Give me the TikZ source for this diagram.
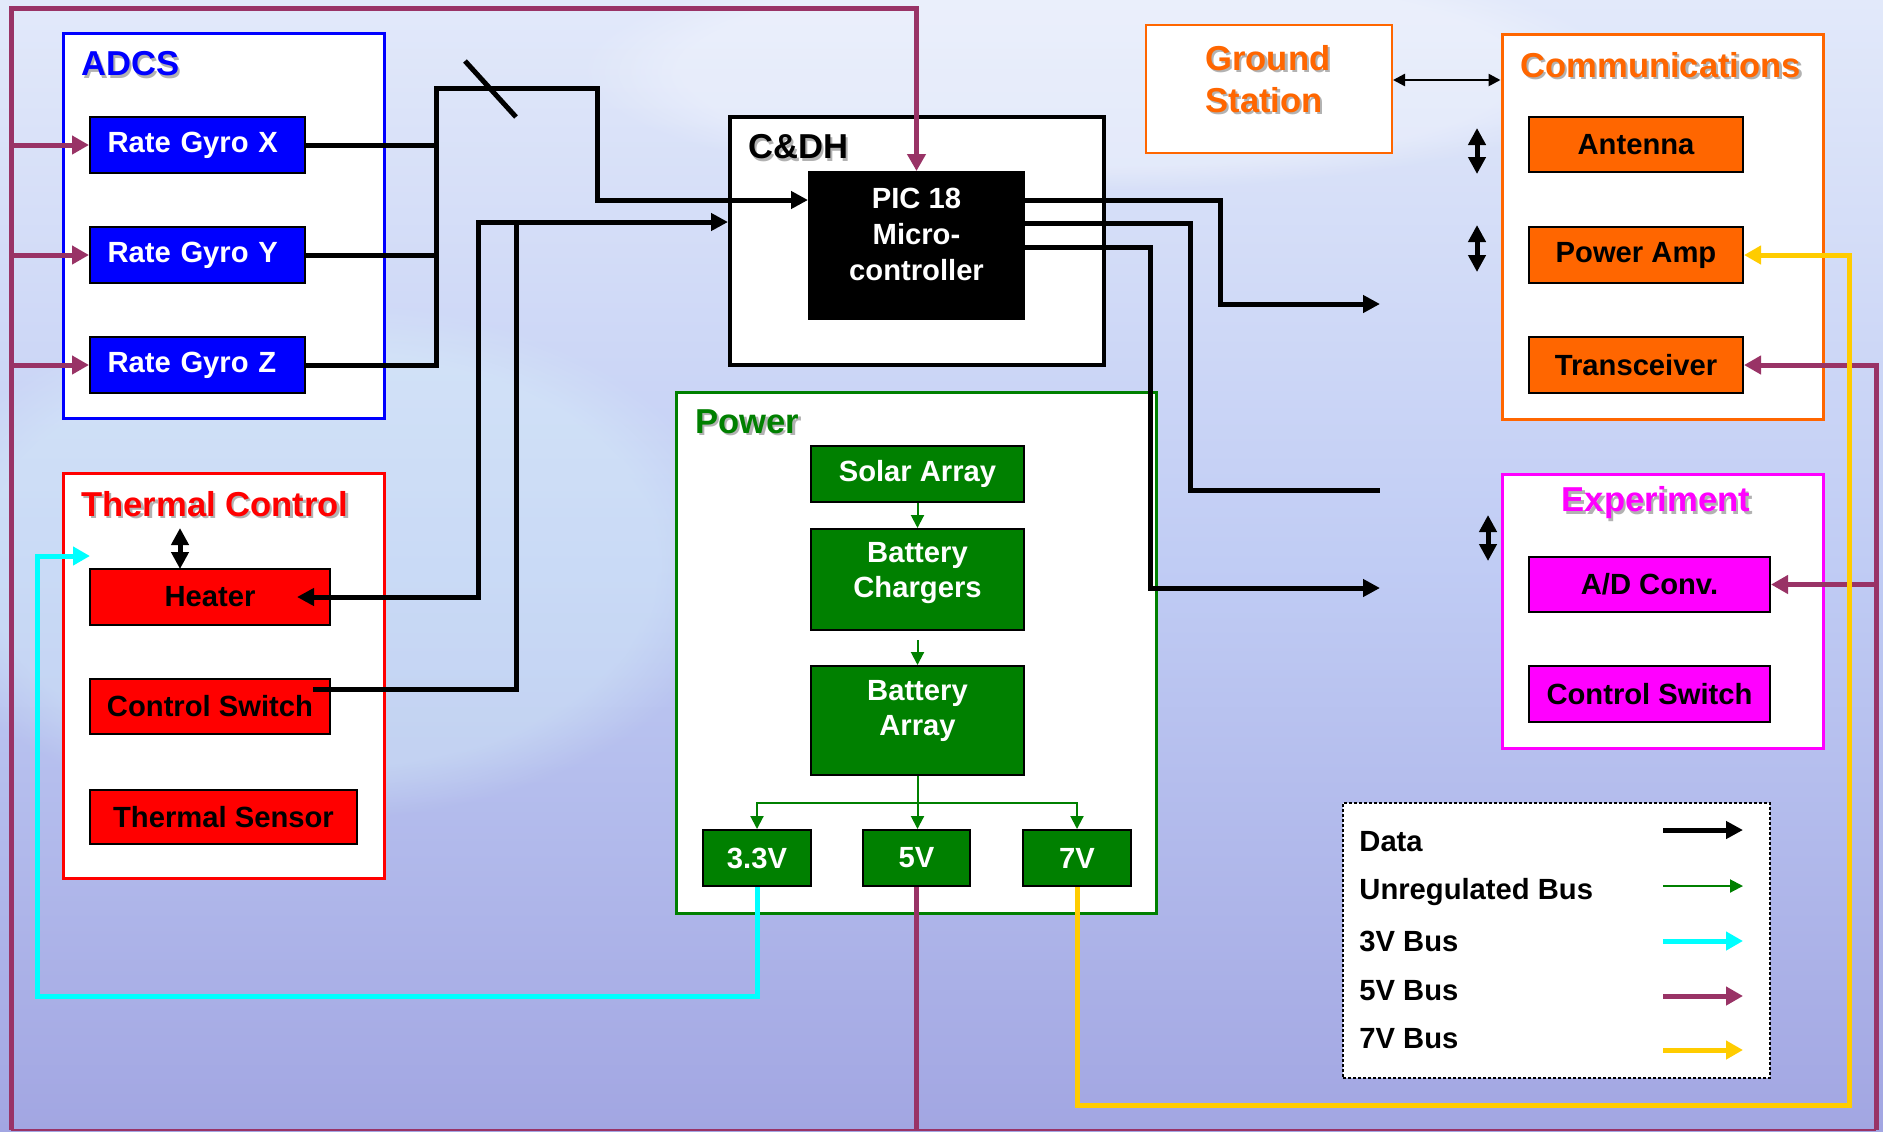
\documentclass[tikz,border=0pt]{standalone}
\usepackage{fontspec}
\setmainfont{Liberation Sans}
\usepackage{xcolor}
\usetikzlibrary{arrows.meta, positioning, calc, fadings}

\definecolor{adcsblue}{RGB}{0,0,255}
\definecolor{thermred}{RGB}{255,0,0}
\definecolor{commorange}{RGB}{255,102,0}
\definecolor{expmagenta}{RGB}{255,0,255}
\definecolor{powgreen}{RGB}{0,128,0}
\definecolor{fiveV}{RGB}{153,51,102}
\definecolor{sevenV}{RGB}{255,204,0}
\definecolor{threeV}{RGB}{0,255,255}
\definecolor{skytop}{RGB}{226,233,250}
\definecolor{skymid}{RGB}{192,204,244}
\definecolor{skybot}{RGB}{162,166,226}
\definecolor{skyhaze}{RGB}{220,246,250}

\newcommand{\unitfont}{\bfseries\fontsize{14.6}{17.5}\selectfont}
\newcommand{\ttlfont}{\bfseries\fontsize{17.3}{21}\selectfont}
\newcommand{\shtxt}[1]{\leavevmode\rlap{\kern1.2pt\raisebox{-1.2pt}{\textcolor{black!30}{#1}}}#1}

\begin{document}
\begin{tikzpicture}[
      x=0.5pt, y=-0.5pt,
      sysframe/.style={draw=#1, line width=1.5pt, fill=white, inner sep=0pt},
      subunit/.style={draw=black, line width=1pt, fill=#1, font=\unitfont, inner sep=0pt, align=center},
      gyro/.style={subunit=adcsblue, text=white, minimum width=107.5pt, minimum height=28pt, align=left, text width=90pt},
      ttl/.style={font=\ttlfont, text=#1, inner sep=0pt, anchor=west},
      lgtext/.style={font=\unitfont, inner sep=0pt, anchor=west},
      datalink/.style={line width=2.5pt, >={Triangle[length=8.5pt,width=8.5pt]}},
      gslink/.style={line width=1.25pt, >={Triangle[length=6pt,width=6pt]}},
      unreg/.style={powgreen, line width=1pt, >={Triangle[length=6.5pt,width=6.5pt]}},
      bus3/.style={threeV, line width=2.5pt, >={Triangle[length=8.5pt,width=9pt]}},
      bus5/.style={fiveV, line width=2.5pt, >={Triangle[length=8.5pt,width=9pt]}},
      bus7/.style={sevenV, line width=2.5pt, >={Triangle[length=8.5pt,width=9pt]}}
    ]
    \useasboundingbox (0,0) rectangle (1883,1131);

    % Sky background
    \fill[top color=skytop, bottom color=skybot, middle color=skymid] (0,0) rectangle (1883,1131);
    \fill[skyhaze, opacity=0.35, path fading=circle with fuzzy edge 20 percent] (320,560) ellipse (420 and 260);
    \fill[white, opacity=0.3, path fading=circle with fuzzy edge 20 percent] (1100,70) ellipse (520 and 120);

    % Subsystem frames
    \node[sysframe=adcsblue, minimum width=160.5pt, minimum height=192.5pt] (adcs) at (223.5,225.5) {};
    \node[sysframe=thermred, minimum width=160.5pt, minimum height=202.5pt] (thermal) at (223.5,675.5) {};
    \node[sysframe=black, line width=2pt, minimum width=187pt, minimum height=124pt] (cdh) at (917,241) {};
    \node[sysframe=powgreen, minimum width=240pt, minimum height=260.5pt] (power) at (916,652.5) {};
    \node[sysframe=commorange, line width=1pt, minimum width=123pt, minimum height=64pt] (ground) at (1269,89) {};
    \node[sysframe=commorange, minimum width=160.5pt, minimum height=192.5pt] (comm) at (1662.5,226.5) {};
    \node[sysframe=expmagenta, minimum width=160.5pt, minimum height=137pt] (exp) at (1662.5,611) {};
    \node[sysframe=black, densely dotted, line width=1pt, minimum width=213.5pt, minimum height=137.5pt] (legend) at (1556.5,940.5) {};

    % Titles
    \node[ttl=adcsblue] (adcsttl) at (81,65) {\shtxt{ADCS}};
    \node[ttl=thermred] (thermttl) at (81,505) {\shtxt{Thermal Control}};
    \node[ttl=black] (cdhttl) at (748,148) {\shtxt{C\&DH}};
    \node[ttl=powgreen] (powttl) at (695,423) {\shtxt{Power}};
    \node[ttl=commorange, align=left] (gsttl) at (1205,80) {\shtxt{Ground}\\\shtxt{Station}};
    \node[ttl=commorange] (commttl) at (1520,66) {\shtxt{Communications}};
    \node[ttl=expmagenta, anchor=center] (expttl) at (1656,504) {\shtxt{Experiment}};

    % ADCS units
    \node[gyro] (gx) at (197.5,145) {Rate Gyro X};
    \node[gyro] (gy) at (197.5,255) {Rate Gyro Y};
    \node[gyro] (gz) at (197.5,365) {Rate Gyro Z};

    % Thermal units
    \node[subunit=thermred, minimum width=120pt, minimum height=28pt] (heater) at (210,597) {Heater};
    \node[subunit=thermred, minimum width=120pt, minimum height=27.5pt] (tcsw) at (210,706.5) {Control Switch};
    \node[subunit=thermred, minimum width=133.5pt, minimum height=27pt] (tsens) at (223.5,817) {Thermal Sensor};

    % C&DH unit
    \node[subunit=black, text=white, minimum width=107.5pt, minimum height=73.5pt, text depth=11.5pt,
          font={\bfseries\fontsize{14.6}{18}\selectfont}] (pic) at (916.5,245.5) {PIC 18\\Micro-\\controller};

    % Power units
    \node[subunit=powgreen, text=white, minimum width=106.5pt, minimum height=28pt] (solar) at (917.5,474) {Solar Array};
    \node[subunit=powgreen, text=white, minimum width=106.5pt, minimum height=50.5pt, text depth=9.5pt] (charg) at (917.5,579.5) {Battery\\Chargers};
    \node[subunit=powgreen, text=white, minimum width=106.5pt, minimum height=54.5pt, text depth=13pt] (barr) at (917.5,720.5) {Battery\\Array};
    \node[subunit=powgreen, text=white, minimum width=54pt, minimum height=28pt] (v33) at (757,858) {3.3V};
    \node[subunit=powgreen, text=white, minimum width=53.5pt, minimum height=28pt] (v5) at (916.5,858) {5V};
    \node[subunit=powgreen, text=white, minimum width=54pt, minimum height=28pt] (v7) at (1077,858) {7V};

    % Communications units
    \node[subunit=commorange, minimum width=107pt, minimum height=27.5pt] (antenna) at (1636,144.5) {Antenna};
    \node[subunit=commorange, minimum width=107pt, minimum height=28pt] (pamp) at (1636,255) {Power Amp};
    \node[subunit=commorange, minimum width=107pt, minimum height=28pt] (xcvr) at (1636,365) {Transceiver};

    % Experiment units
    \node[subunit=expmagenta, minimum width=120.5pt, minimum height=27.5pt] (adc) at (1649.5,584.5) {A/D Conv.};
    \node[subunit=expmagenta, minimum width=120.5pt, minimum height=28pt] (ecsw) at (1649.5,694) {Control Switch};

    % Legend
    \node[lgtext] (lgdata) at (1359,842) {Data};
    \node[lgtext] (lgunreg) at (1359,892) {Unregulated Bus};
    \node[lgtext] (lgthree) at (1359,941) {3V Bus};
    \node[lgtext] (lgfive) at (1359,991) {5V Bus};
    \node[lgtext] (lgseven) at (1359,1039) {7V Bus};

    % Bend points and free ends
    \coordinate (t5l) at (11,8);
    \coordinate (b5l) at (11,1130);
    \coordinate (b5r) at (1876,1130);
    \coordinate (c3bl) at (37,996);
    \coordinate (c3tip) at (90,556);
    \coordinate (y7r) at (1849,1105);
    \coordinate (gsplit) at (917.5,803);
    \coordinate (dtop) at (436,88);
    \coordinate (dknee) at (597,200);
    \coordinate (hknee) at (478,222);
    \coordinate (sknee) at (516,222);
    \coordinate (k1) at (1220,304);
    \coordinate (k2) at (1190,490);
    \coordinate (k3) at (1150,588);
    \coordinate (o1) at (1380,304);
    \coordinate (o2) at (1380,490);
    \coordinate (o3) at (1380,588);

    % 5V bus
    \draw[bus5, line width=1pt] (b5l) -- (b5r);
    \draw[bus5] (v5.south) -- (v5.south |- b5l);
    \draw[bus5, ->] (b5l) -- (t5l) -| (pic.north);
    \draw[bus5, ->] (t5l |- gx.west) -- (gx.west);
    \draw[bus5, ->] (t5l |- gy.west) -- (gy.west);
    \draw[bus5, ->] (t5l |- gz.west) -- (gz.west);
    \draw[bus5, ->] (b5r) |- (xcvr.east);
    \draw[bus5, ->] (b5r |- adc.east) -- (adc.east);

    % 3V and 7V buses
    \draw[bus3, ->] (v33.south) |- (c3bl) |- (c3tip);
    \draw[bus7, ->] (v7.south) |- (y7r) |- (pamp.east);

    % Unregulated bus
    \draw[unreg, ->] (solar.south) -- (charg.north);
    \draw[unreg, ->] ([yshift=-4.5pt]charg.south) -- (barr.north);
    \draw[unreg, ->] (barr.south) -- (barr.south |- v5.north);
    \draw[unreg, ->] (gsplit) -| (v33.north);
    \draw[unreg, ->] (gsplit) -| (v7.north);

    % Data links
    \draw[datalink] (gx.east) -- (gx.east -| dtop);
    \draw[datalink] (gy.east) -- (gy.east -| dtop);
    \draw[datalink, ->] (gz.east) -| (dtop) -| (dknee) -- (dknee -| pic.west);
    \draw[datalink] (465,61) -- (516,117);
    \draw[datalink, <->] ([xshift=-17pt]heater.east) -| (hknee) -- (hknee -| cdh.west);
    \draw[datalink] ([xshift=-9pt, yshift=8.75pt]tcsw.east) -| (sknee);
    \draw[datalink, ->] ([yshift=22.75pt]pic.east) -| (k1) -- (o1);
    \draw[datalink] ([yshift=11.25pt]pic.east) -| (k2) -- (o2);
    \draw[datalink, ->] ([yshift=-0.75pt]pic.east) -| (k3) -- (o3);

    % Short two-way links
    \draw[gslink, <->] ([yshift=4.5pt]ground.east) -- ([yshift=4.5pt]ground.east -| comm.west);
    \draw[datalink, <->] (180,528) -- (180,569);
    \draw[datalink, <->] (1477,128) -- (1477,174);
    \draw[datalink, <->] (1477,225) -- (1477,272);
    \draw[datalink, <->] (1488,515) -- (1488,561);

    % Legend samples
    \draw[datalink, ->] (1663,830) -- (1743,830);
    \draw[unreg, ->] (1663,886) -- (1743,886);
    \draw[bus3, ->] (1663,941) -- (1743,941);
    \draw[bus5, ->] (1663,996) -- (1743,996);
    \draw[bus7, ->] (1663,1050) -- (1743,1050);
  \end{tikzpicture}
\end{document}
